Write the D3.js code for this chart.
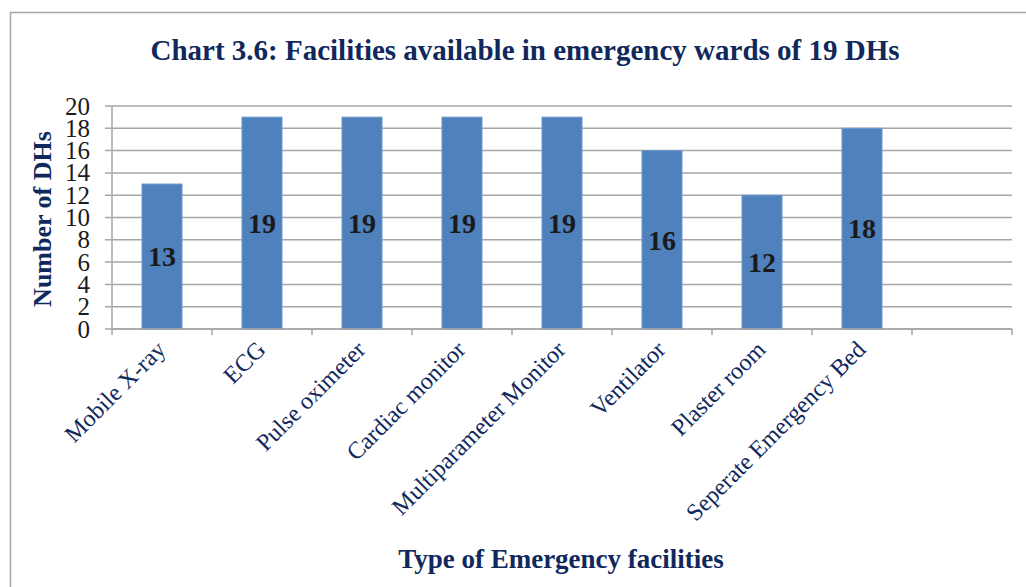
<!DOCTYPE html>
<html lang="en">
<head>
<meta charset="utf-8">
<title>Chart 3.6</title>
<script src="https://d3js.org/d3.v7.min.js"></script>
<style>
  body { margin: 0; background: #fff; }
  text { font-family: "Liberation Serif", "Times New Roman", serif; }
</style>
</head>
<body>
<script>
// categories and values (last slot is empty)
var categories = ["Mobile X-ray", "ECG", "Pulse oximeter", "Cardiac monitor",
  "Multiparameter Monitor", "Ventilator", "Plaster room", "Seperate Emergency Bed", ""];
var values = [13, 19, 19, 19, 19, 16, 12, 18, null];
var yTicks = [0, 2, 4, 6, 8, 10, 12, 14, 16, 18, 20];

var width = 1026, height = 587;
var navy = "#10285c";

var svg = d3.select("body").append("svg")
  .attr("width", width)
  .attr("height", height);

// outer frame
svg.append("rect")
  .attr("x", 10.5).attr("y", 12.5)
  .attr("width", 1030).attr("height", 600)
  .attr("fill", "none")
  .attr("stroke", "#a6a6a6")
  .attr("stroke-width", 1.5);

var plot = { left: 112, right: 1012, top: 106, bottom: 329 };

var x = d3.scaleBand()
  .domain(d3.range(categories.length))
  .range([plot.left, plot.right])
  .paddingInner(0.6)
  .paddingOuter(0.3);

var y = d3.scaleLinear()
  .domain([0, 20])
  .range([plot.bottom, plot.top]);

// gridlines
svg.append("g")
  .selectAll("line")
  .data(yTicks)
  .enter().append("line")
  .attr("x1", plot.left - 7)
  .attr("x2", plot.right)
  .attr("y1", function(d) { return y(d); })
  .attr("y2", function(d) { return y(d); })
  .attr("stroke", "#a6a6a6")
  .attr("stroke-width", 1.5);

// y axis line
svg.append("line")
  .attr("x1", plot.left).attr("x2", plot.left)
  .attr("y1", plot.top).attr("y2", plot.bottom)
  .attr("stroke", "#a6a6a6").attr("stroke-width", 1.5);

// y tick labels
svg.append("g")
  .selectAll("text")
  .data(yTicks)
  .enter().append("text")
  .attr("x", 90)
  .attr("y", function(d) { return y(d); })
  .attr("dy", "0.34em")
  .attr("text-anchor", "end")
  .attr("font-size", "25px")
  .attr("fill", "#1a1a1a")
  .text(function(d) { return d; });

// x tick marks (category boundaries)
var step = x.step();
var bounds = d3.range(categories.length + 1).map(function(i) { return plot.left + i * step; });
svg.append("g")
  .selectAll("line")
  .data(bounds)
  .enter().append("line")
  .attr("x1", function(d) { return d; })
  .attr("x2", function(d) { return d; })
  .attr("y1", plot.bottom)
  .attr("y2", plot.bottom + 6)
  .attr("stroke", "#a6a6a6")
  .attr("stroke-width", 1.5);

// bars
var data = categories.map(function(c, i) { return { i: i, name: c, v: values[i] }; })
  .filter(function(d) { return d.v != null; });

svg.append("g")
  .selectAll("rect")
  .data(data)
  .enter().append("rect")
  .attr("x", function(d) { return x(d.i); })
  .attr("y", function(d) { return y(d.v); })
  .attr("width", x.bandwidth())
  .attr("height", function(d) { return y(0) - y(d.v); })
  .attr("fill", "#4f81bd")
  .attr("stroke", "#6d97cb")
  .attr("stroke-width", 1);

// data labels in the middle of the bars
svg.append("g")
  .selectAll("text")
  .data(data)
  .enter().append("text")
  .attr("x", function(d) { return x(d.i) + x.bandwidth() / 2; })
  .attr("y", function(d) { return y(d.v / 2); })
  .attr("dy", "0.35em")
  .attr("text-anchor", "middle")
  .attr("font-size", "28px")
  .attr("font-weight", "bold")
  .attr("fill", "#1a1a1a")
  .text(function(d) { return d.v; });

// x axis line
svg.append("line")
  .attr("x1", plot.left).attr("x2", plot.right)
  .attr("y1", plot.bottom).attr("y2", plot.bottom)
  .attr("stroke", "#a6a6a6").attr("stroke-width", 1.5);

// rotated category labels
svg.append("g")
  .selectAll("text")
  .data(data)
  .enter().append("text")
  .attr("transform", function(d) {
    return "translate(" + (x(d.i) + x.bandwidth() / 2 + 5) + "," + (plot.bottom + 22) + ") rotate(-45)";
  })
  .attr("text-anchor", "end")
  .attr("font-size", "24px")
  .attr("fill", navy)
  .text(function(d) { return d.name; });

// title
svg.append("text")
  .attr("x", 525)
  .attr("y", 60)
  .attr("text-anchor", "middle")
  .attr("font-size", "29px")
  .attr("font-weight", "bold")
  .attr("fill", navy)
  .text("Chart 3.6: Facilities available in emergency wards of 19 DHs");

// y axis title
svg.append("text")
  .attr("transform", "translate(51,219) rotate(-90)")
  .attr("text-anchor", "middle")
  .attr("font-size", "26px")
  .attr("font-weight", "bold")
  .attr("fill", navy)
  .text("Number of DHs");

// x axis title
svg.append("text")
  .attr("x", 561)
  .attr("y", 568)
  .attr("text-anchor", "middle")
  .attr("font-size", "27px")
  .attr("font-weight", "bold")
  .attr("fill", navy)
  .text("Type of Emergency facilities");
</script>
</body>
</html>
